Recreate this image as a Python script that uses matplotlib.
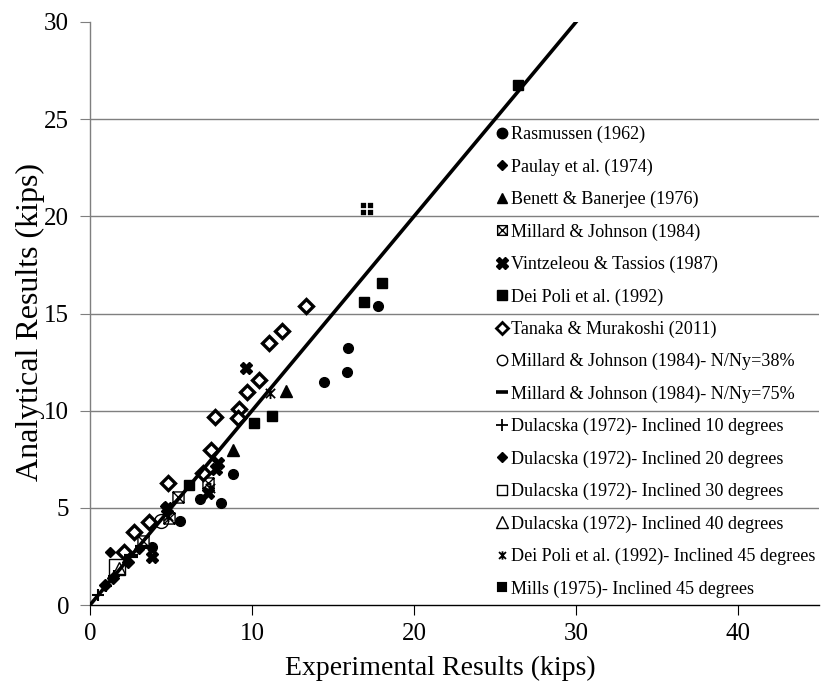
import matplotlib
matplotlib.use("Agg")
import matplotlib.pyplot as plt
from matplotlib.path import Path
from matplotlib.lines import Line2D

# ---- data (experimental kips, analytical kips) ----
ras_x = [3.8, 5.56, 6.77, 8.1, 8.85, 14.46, 15.85, 15.95, 17.8]
ras_y = [3.0, 4.32, 5.46, 5.27, 6.73, 11.49, 12.01, 13.21, 15.4]

paulay_x = [1.23, 3.0, 4.6]
paulay_y = [2.74, 2.9, 5.1]

benett_x = [12.08, 8.82]
benett_y = [11.0, 7.97]

millard_x = [7.3, 5.45, 4.9, 3.3]
millard_y = [6.26, 5.55, 4.5, 3.3]

vintz_x = [9.61, 7.9, 7.8, 7.3, 3.8, 4.75]
vintz_y = [12.18, 7.3, 7.0, 5.75, 2.45, 5.0]

deipoli_x = [26.44, 18.0, 16.9, 11.21, 10.12, 6.1]
deipoli_y = [26.76, 16.55, 15.6, 9.74, 9.37, 6.16]

tanaka_x = [13.33, 11.85, 11.07, 10.45, 9.72, 9.22, 9.16, 7.7, 7.47, 6.95, 4.8, 3.66, 2.73, 2.12]
tanaka_y = [15.39, 14.12, 13.5, 11.58, 10.96, 10.07, 9.62, 9.65, 7.98, 6.78, 6.3, 4.29, 3.77, 2.74]

mj38_x = [4.4]
mj38_y = [4.3]

mj75_x = [2.5, 3.2]
mj75_y = [2.5, 3.0]

dul10_x = [0.5, 1.0, 1.5]
dul10_y = [0.5, 1.0, 1.5]

dul20_x = [0.93, 1.44, 2.37]
dul20_y = [1.03, 1.37, 2.23]

dul30_x = [1.65]
dul30_y = [1.97]

dul40_x = [1.81]
dul40_y = [1.89]

dp45_x = [11.1, 7.4, 4.8]
dp45_y = [10.9, 6.0, 4.6]

mills_x = [17.1]
mills_y = [20.4]

labels = [
    "Rasmussen (1962)",
    "Paulay et al. (1974)",
    "Benett & Banerjee (1976)",
    "Millard & Johnson (1984)",
    "Vintzeleou & Tassios (1987)",
    "Dei Poli et al. (1992)",
    "Tanaka & Murakoshi (2011)",
    "Millard & Johnson (1984)- N/Ny=38%",
    "Millard & Johnson (1984)- N/Ny=75%",
    "Dulacska (1972)- Inclined 10 degrees",
    "Dulacska (1972)- Inclined 20 degrees",
    "Dulacska (1972)- Inclined 30 degrees",
    "Dulacska (1972)- Inclined 40 degrees",
    "Dei Poli et al. (1992)- Inclined 45 degrees",
    "Mills (1975)- Inclined 45 degrees",
]

# ---- custom marker shapes ----
M, L, C = Path.MOVETO, Path.LINETO, Path.CLOSEPOLY
boxx = Path(
    [(-1, -1), (1, -1), (1, 1), (-1, 1), (-1, -1),
     (-1, -1), (1, 1), (-1, 1), (1, -1)],
    [M, L, L, L, C, M, L, M, L],
)
star = Path(
    [(-1, -1), (1, 1), (-1, 1), (1, -1), (0, -1.2), (0, 1.2)],
    [M, L, M, L, M, L],
)
g = 0.1
quad_verts, quad_codes = [], []
for sx in (-1, 1):
    for sy in (-1, 1):
        x0, x1 = sorted((sx * g, sx * 1.0))
        y0, y1 = sorted((sy * g, sy * 1.0))
        quad_verts += [(x0, y0), (x1, y0), (x1, y1), (x0, y1), (x0, y0)]
        quad_codes += [M, L, L, L, C]
boxplus = Path(quad_verts, quad_codes)

plt.rcParams["font.family"] = ["Liberation Serif", "DejaVu Serif"]

W, H = 822, 689
fig = plt.figure(figsize=(W / 100, H / 100), dpi=100)
ax = fig.add_axes([90 / W, 84 / H, 729 / W, 583 / H])

k = "black"
# (x, y, plot style, legend style)
series = [
    (ras_x, ras_y, dict(marker="o", ms=7, mfc=k, mec=k),
     dict(marker="o", ms=7.5, mfc=k, mec=k)),
    (paulay_x, paulay_y, dict(marker="D", ms=5, mfc=k, mec=k),
     dict(marker="D", ms=5.5, mfc=k, mec=k)),
    (benett_x, benett_y, dict(marker="^", ms=8, mfc=k, mec=k),
     dict(marker="^", ms=7.5, mfc=k, mec=k)),
    (millard_x, millard_y, dict(marker=boxx, ms=8, mfc="white", mec=k, mew=1.0),
     dict(marker=boxx, ms=7, mfc="white", mec=k, mew=1.0)),
    (vintz_x, vintz_y, dict(marker="X", ms=9, mfc=k, mec=k),
     dict(marker="X", ms=8, mfc=k, mec=k)),
    (deipoli_x, deipoli_y, dict(marker="s", ms=7.5, mfc=k, mec=k),
     dict(marker="s", ms=7, mfc=k, mec=k)),
    (tanaka_x, tanaka_y, dict(marker="D", ms=7.5, mfc="white", mec=k, mew=2.4),
     dict(marker="D", ms=6.5, mfc="white", mec=k, mew=2.0)),
    (mj38_x, mj38_y, dict(marker="o", ms=10, mfc="none", mec=k, mew=1.0),
     dict(marker="o", ms=7.5, mfc="none", mec=k, mew=1.0)),
    (mj75_x, mj75_y, dict(marker="_", ms=10, mec=k, mew=3),
     dict(marker="_", ms=8, mec=k, mew=2.6)),
    (dul10_x, dul10_y, dict(marker="+", ms=9, mec=k, mew=1.5),
     dict(marker="+", ms=8, mec=k, mew=1.3)),
    (dul20_x, dul20_y, dict(marker="D", ms=6, mfc=k, mec=k),
     dict(marker="D", ms=5.5, mfc=k, mec=k)),
    (dul30_x, dul30_y, dict(marker="s", ms=12, mfc="none", mec=k, mew=1.0),
     dict(marker="s", ms=7.5, mfc="none", mec=k, mew=1.0)),
    (dul40_x, dul40_y, dict(marker="^", ms=9, mfc="none", mec=k, mew=1.0),
     dict(marker="^", ms=8, mfc="none", mec=k, mew=1.0)),
    (dp45_x, dp45_y, dict(marker=star, ms=8, mfc="none", mec=k, mew=1.3),
     dict(marker=star, ms=6, mfc="none", mec=k, mew=1.3)),
    (mills_x, mills_y, dict(marker=boxplus, ms=8.5, mfc=k, mec=k, mew=0.2),
     dict(marker=boxplus, ms=7, mfc=k, mec=k, mew=0.1)),
]

handles = []
for (xs, ys, st, lst), lab in zip(series, labels):
    ax.plot(xs, ys, ls="none", zorder=3, **st)
    handles.append(Line2D([], [], ls="none", label=lab, **lst))

# 1:1 reference line
ax.plot([0, 30], [0, 30], color=k, lw=2.6, zorder=4)

ax.set_xlim(0, 45)
ax.set_ylim(0, 30)
ax.set_xticks([0, 10, 20, 30, 40])
ax.set_yticks([0, 5, 10, 15, 20, 25, 30])
for yv in [5, 10, 15, 20, 25]:
    ax.axhline(yv, color="#7f7f7f", lw=1.0, zorder=1)
for s in ("top", "right"):
    ax.spines[s].set_visible(False)
ax.spines["left"].set_color("#7f7f7f")
ax.spines["bottom"].set_color(k)
ax.spines["left"].set_linewidth(1.0)
ax.spines["bottom"].set_linewidth(1.0)
ax.tick_params(axis="y", direction="out", length=7, color="#7f7f7f",
               labelsize=18, pad=8)
ax.tick_params(axis="x", direction="out", length=7, color=k,
               labelsize=18, pad=6)

ax.set_xlabel("Experimental Results (kips)", fontsize=20)
ax.set_ylabel("Analytical Results (kips)", fontsize=23)
ax.xaxis.set_label_coords((440 - 90) / 729, -(668 - 605) / 583)
ax.yaxis.set_label_coords((30 - 90) / 729, 1 - (322 - 22) / 583)
ax.xaxis.label.set_va("center")
ax.yaxis.label.set_va("center")

fs = 13.1
fpx = fs * 100 / 72
leg = ax.legend(handles=handles, loc="upper left",
                bbox_to_anchor=(405 / 729, 1 - (126 - 22) / 583),
                frameon=False, fontsize=fs, handlelength=0.8,
                handletextpad=0.08, labelspacing=0.832,
                borderpad=0, borderaxespad=0)

fig.savefig("out.png", dpi=100)
